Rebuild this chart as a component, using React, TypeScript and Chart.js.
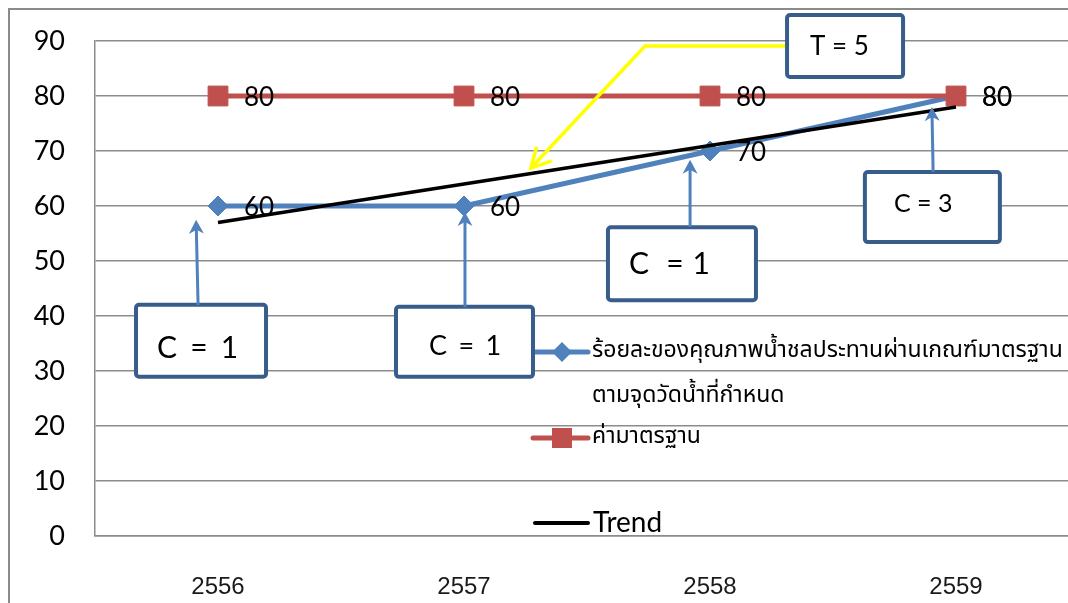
import { useEffect, useRef } from "react";
import { Chart, registerables } from "chart.js";

Chart.register(...registerables);

// Years on the category axis (Thai Buddhist calendar)
const years = ["2556", "2557", "2558", "2559"];
// Share of irrigation water samples passing the standard (%)
const passRate = [60, 60, 70, 80];
// Standard threshold (%)
const standard = [80, 80, 80, 80];
// Linear trend of the pass rate
const trend = [57, 64, 71, 78];
// Value axis range
const yMin = 0;
const yMax = 90;
const yStep = 10;

const passLabelLine1 = "ร้อยละของคุณภาพน้ำชลประทานผ่านเกณฑ์มาตรฐาน";
const passLabelLine2 = "ตามจุดวัดน้ำที่กำหนด";
const standardLabel = "ค่ามาตรฐาน";
const trendLabel = "Trend";

// Callout boxes: centre given in (category index, value) units
const callouts = [
  { text: "C = 1", cx: -0.069, cy: 35.5, w: 130, h: 72, size: 30, tx: 21, dy: 6.5, ws: 5.5, from: [-0.081, 42.0], to: [-0.089, 57.5] },
  { text: "C = 1", cx: 1.002, cy: 35.3, w: 137, h: 70, size: 27, tx: 33, dy: 3, ws: 4.5, from: [1.004, 41.6], to: [1.004, 58.9] },
  { text: "C  = 1", cx: 1.886, cy: 49.5, w: 148, h: 73, size: 30, tx: 21, dy: 0, ws: 1, from: [1.919, 56.2], to: [1.919, 68.4] },
  { text: "C = 3", cx: 2.904, cy: 59.8, w: 135, h: 70, size: 25, tx: 29, dy: -4.5, ws: 0, from: [2.907, 66.2], to: [2.902, 78.0] },
];
const periodBox = { text: "T = 5", cx: 2.549, cy: 89.1, w: 116, h: 62, size: 26, tx: 23, dy: 0, ws: 0 };
const periodPath = [
  [2.313, 89.1],
  [1.736, 89.1],
  [1.272, 66.9],
];

const BLUE = "#4F81BD";
const RED = "#C0504D";
const BOX = "#385D8A";
const LATIN = "Lato, 'Open Sans', sans-serif";
const THAI = "'Noto Sans Thai', 'Noto Sans Thai UI', Loma, Garuda, Tahoma, 'Noto Sans', sans-serif";

const overlay = {
  id: "overlay",
  afterDatasetsDraw(chart: any) {
    const ctx = chart.ctx as CanvasRenderingContext2D;
    const xs = chart.scales.x;
    const ys = chart.scales.y;
    ctx.save();
    ctx.fillStyle = "#000";
    ctx.font = `26px ${LATIN}`;
    ctx.textAlign = "left";
    ctx.textBaseline = "alphabetic";
    [passRate, standard].forEach((series) =>
      series.forEach((v, i) => {
        const px = xs.getPixelForValue(i);
        const py = ys.getPixelForValue(v);
        ctx.fillText(String(v), px + 26, py + 1 + 0.358 * 26);
      })
    );
    ctx.restore();
  },
  afterDraw(chart: any) {
    const ctx = chart.ctx as CanvasRenderingContext2D;
    const xs = chart.scales.x;
    const ys = chart.scales.y;
    const ca = chart.chartArea;
    const X = (i: number) => xs.getPixelForValue(i);
    const Y = (v: number) => ys.getPixelForValue(v);

    ctx.save();

    // ---- legend ----
    const lx = ca.left + 438;
    const seg = (x1: number, x2: number, y: number, color: string, w: number) => {
      ctx.strokeStyle = color;
      ctx.lineWidth = w;
      ctx.lineCap = "round";
      ctx.beginPath();
      ctx.moveTo(x1, y);
      ctx.lineTo(x2, y);
      ctx.stroke();
    };
    const r1 = ca.top + 311;
    const r2 = ca.top + 356;
    const r3 = ca.top + 397;
    const r4 = ca.top + 482;

    seg(lx, lx + 55, r1, BLUE, 5);
    ctx.fillStyle = BLUE;
    ctx.beginPath();
    ctx.moveTo(lx + 29 - 10, r1);
    ctx.lineTo(lx + 29, r1 - 10);
    ctx.lineTo(lx + 29 + 10, r1);
    ctx.lineTo(lx + 29, r1 + 10);
    ctx.closePath();
    ctx.fill();

    seg(lx, lx + 55, r3, RED, 5);
    ctx.fillStyle = RED;
    ctx.fillRect(lx + 29 - 10, r3 - 10, 20, 20);

    seg(lx + 2, lx + 55, r4, "#000", 4);

    ctx.fillStyle = "#000";
    ctx.textAlign = "left";
    ctx.textBaseline = "middle";
    ctx.font = `20px ${THAI}`;
    const w20 = ctx.measureText(passLabelLine1).width || 1;
    const thaiSize = Math.max(14, Math.min(26, (20 * 471) / w20));
    ctx.font = `${thaiSize}px ${THAI}`;
    ctx.fillText(passLabelLine1, lx + 59, r1);
    ctx.fillText(passLabelLine2, lx + 59, r2);
    ctx.fillText(standardLabel, lx + 59, r3);
    ctx.font = `28px ${LATIN}`;
    ctx.fillText(trendLabel, lx + 60, r4);

    // ---- callouts ----
    const arrow = (x1: number, y1: number, x2: number, y2: number) => {
      ctx.strokeStyle = BLUE;
      ctx.fillStyle = BLUE;
      ctx.lineWidth = 3;
      ctx.lineCap = "butt";
      const dx = x2 - x1;
      const dy = y2 - y1;
      const len = Math.hypot(dx, dy) || 1;
      const ux = dx / len;
      const uy = dy / len;
      const px = -uy;
      const py = ux;
      ctx.beginPath();
      ctx.moveTo(x1, y1);
      ctx.lineTo(x2 - ux * 8, y2 - uy * 8);
      ctx.stroke();
      ctx.beginPath();
      ctx.moveTo(x2, y2);
      ctx.lineTo(x2 - ux * 14 + px * 7.5, y2 - uy * 14 + py * 7.5);
      ctx.lineTo(x2 - ux * 10, y2 - uy * 10);
      ctx.lineTo(x2 - ux * 14 - px * 7.5, y2 - uy * 14 - py * 7.5);
      ctx.closePath();
      ctx.fill();
    };
    const box = (b: any) => {
      const cx = X(b.cx);
      const cy = Y(b.cy);
      const left = cx - b.w / 2;
      const top = cy - b.h / 2;
      ctx.fillStyle = "#fff";
      ctx.strokeStyle = BOX;
      ctx.lineWidth = 4;
      ctx.beginPath();
      if ((ctx as any).roundRect) (ctx as any).roundRect(left, top, b.w, b.h, 3);
      else ctx.rect(left, top, b.w, b.h);
      ctx.fill();
      ctx.stroke();
      ctx.fillStyle = "#000";
      ctx.font = `${b.size}px ${LATIN}`;
      ctx.textAlign = "left";
      ctx.textBaseline = "alphabetic";
      (ctx as any).wordSpacing = `${b.ws}px`;
      ctx.fillText(b.text, left + b.tx, cy + b.dy + 0.358 * b.size);
      (ctx as any).wordSpacing = "0px";
    };

    callouts.forEach((c) => {
      box(c);
      arrow(X(c.from[0]), Y(c.from[1]), X(c.to[0]), Y(c.to[1]));
    });

    // period arrow (yellow)
    const pts = periodPath.map(([i, v]) => [X(i), Y(v)]);
    ctx.strokeStyle = "#FFFF00";
    ctx.lineWidth = 3.5;
    ctx.lineJoin = "miter";
    ctx.lineCap = "butt";
    ctx.beginPath();
    pts.forEach(([x, y], k) => (k === 0 ? ctx.moveTo(x, y) : ctx.lineTo(x, y)));
    ctx.stroke();
    const [ax, ay] = pts[pts.length - 2];
    const [tx, ty] = pts[pts.length - 1];
    const ang = Math.atan2(ay - ty, ax - tx);
    const barb = 22;
    const spread = (28 * Math.PI) / 180;
    ctx.beginPath();
    ctx.moveTo(tx + Math.cos(ang - spread) * barb, ty + Math.sin(ang - spread) * barb);
    ctx.lineTo(tx, ty);
    ctx.lineTo(tx + Math.cos(ang + spread) * barb, ty + Math.sin(ang + spread) * barb);
    ctx.stroke();
    box(periodBox);

    ctx.restore();
  },
};

export default function App() {
  const ref = useRef<HTMLCanvasElement>(null);

  useEffect(() => {
    const canvas = ref.current;
    if (!canvas) return;
    const chart = new Chart(canvas, {
      type: "line",
      data: {
        labels: years,
        datasets: [
          {
            label: trendLabel,
            data: trend,
            borderColor: "#000",
            borderWidth: 3.5,
            pointRadius: 0,
            order: 0,
          },
          {
            label: standardLabel,
            data: standard,
            borderColor: RED,
            backgroundColor: RED,
            borderWidth: 5,
            pointStyle: "rect",
            pointRadius: 14,
            pointBorderWidth: 1,
            pointBorderColor: RED,
            pointBackgroundColor: RED,
            order: 1,
          },
          {
            label: passLabelLine1 + " " + passLabelLine2,
            data: passRate,
            borderColor: BLUE,
            backgroundColor: BLUE,
            borderWidth: 5,
            pointStyle: "rectRot",
            pointRadius: 10,
            pointBorderWidth: 1,
            pointBorderColor: BLUE,
            pointBackgroundColor: BLUE,
            order: 2,
          },
        ],
      },
      options: {
        responsive: false,
        animation: false,
        devicePixelRatio: 1,
        layout: { padding: { top: 31, right: 31, bottom: 0, left: 0 } },
        plugins: {
          legend: { display: false },
          tooltip: { enabled: false },
        },
        scales: {
          x: {
            offset: true,
            grid: { display: false, drawTicks: false },
            border: { display: true, color: "#8c8c8c", width: 1.5 },
            ticks: {
              padding: 37,
              color: "#1a1a1a",
              font: { family: "'Liberation Sans', Arial, sans-serif", size: 24 },
            },
            afterFit: (axis: any) => {
              axis.height = 74;
              axis.paddingLeft = 0;
              axis.paddingRight = 0;
            },
          },
          y: {
            min: yMin,
            max: yMax,
            ticks: {
              stepSize: yStep,
              padding: 30,
              color: "#000",
              font: { family: LATIN, size: 27 },
            },
            grid: { color: "#8c8c8c", lineWidth: 1.5, drawTicks: false },
            border: { display: true, color: "#8c8c8c", width: 1.5 },
            afterFit: (axis: any) => {
              axis.width = 85;
              axis.paddingTop = 0;
              axis.paddingBottom = 0;
            },
          },
        },
      },
      plugins: [overlay],
    });
    return () => chart.destroy();
  }, []);

  return (
    <div
      style={{
        position: "fixed",
        left: 8,
        top: 8,
        right: 0,
        bottom: 0,
        overflow: "hidden",
        background: "#fff",
        borderLeft: "2px solid #8a8a8a",
        borderTop: "2px solid #8a8a8a",
      }}
    >
      <canvas ref={ref} width={1100} height={600} style={{ position: "absolute", left: 0, top: 0 }} />
    </div>
  );
}
